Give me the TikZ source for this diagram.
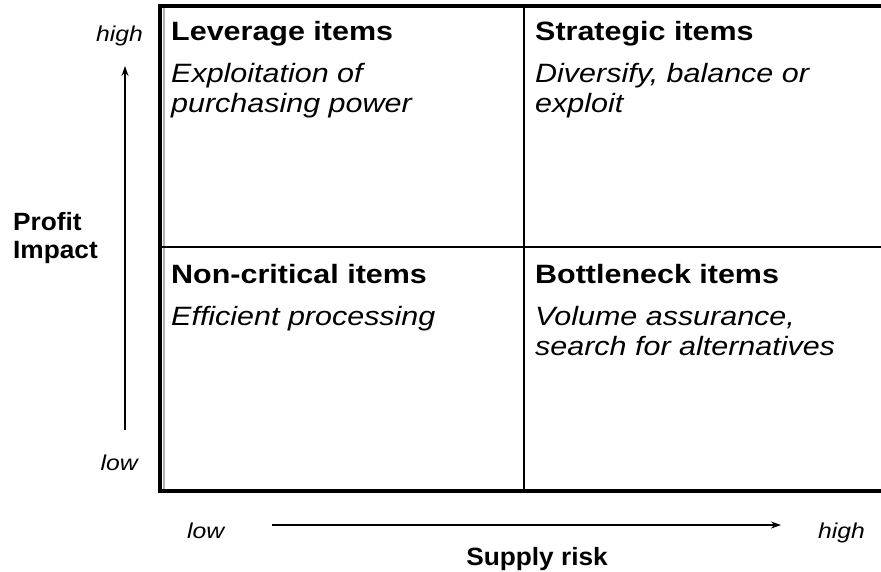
\documentclass[tikz,border=0pt]{standalone}
\usepackage{fontspec}
\setmainfont{Liberation Sans}[FakeStretch=1.15]
\newfontfamily\axisfont{Liberation Sans}[FakeStretch=1.05]
\usetikzlibrary{calc, arrows.meta}

\tikzset{
	title/.style = {anchor = base west, inner sep = 0pt, font = \bfseries\fontsize{26.5}{30}\selectfont},
	advice/.style = {anchor = base west, inner sep = 0pt, align = left, font = \itshape\fontsize{26.5}{30}\selectfont},
	level/.style = {inner sep = 0pt, font = \itshape\fontsize{21.5}{25}\selectfont},
	axis name/.style = {inner sep = 0pt, align = left, font = \axisfont\bfseries\fontsize{25}{28}\selectfont},
	axis arrow/.style = {-{Stealth[length = 10pt, width = 7pt]}, line width = 1.8pt}
}

\begin{document}
\begin{tikzpicture}[x = 1pt, y = -1pt]
		\def\l{160};
		\def\m{524};
		\def\r{881};
		\def\t{6};
		\def\h{247};
		\def\b{491};
		
		\useasboundingbox (0,0) rectangle (881,571);
		
		%matrix
		\draw [gray!60, line width = 2pt] (\l+3.5,\t) -- (\l+3.5,\b);
		\draw [line width = 4.5pt] (\r,\t) -- (\l,\t) -- (\l,\b) -- (\r,\b);
		\draw [line width = 2.5pt] (\m,\t) -- (\m,\b);
		\draw [line width = 2.5pt] (\l,\h) -- (\r,\h);
		
		%quadrants (advice nodes sit on the baseline of their last line)
		\node [title] (leverage) at (\l+11,40) {Leverage items};
		\node [advice] (leverage advice) at (\l+11,112) {Exploitation of\\purchasing power};
		
		\node [title] (strategic) at (\m+11,40) {Strategic items};
		\node [advice] (strategic advice) at (\m+11,112) {Diversify, balance or\\exploit};
		
		\node [title] (noncritical) at (\l+11,283) {Non-critical items};
		\node [advice] (noncritical advice) at (\l+11,325) {Efficient processing};
		
		\node [title] (bottleneck) at (\m+11,283) {Bottleneck items};
		\node [advice] (bottleneck advice) at (\m+11,355) {Volume assurance,\\search for alternatives};
		
		%axes
		\node [level, anchor = base east] (impact high) at (143,41) {high};
		\node [level, anchor = base east] (impact low) at (138,470) {low};
		\node [axis name, anchor = base west] (impact) at (13,258) {Profit\\Impact};
		
		\node [level, anchor = base west] (risk low) at (187,538) {low};
		\node [level, anchor = base west] (risk high) at (818,538) {high};
		\node [axis name, anchor = base] (risk) at (537,565) {Supply risk};
		
		\coordinate (impact start) at (125,430);
		\coordinate (impact end) at (125,66);
		\coordinate (risk start) at (272,525);
		\coordinate (risk end) at (781,525);
		
		\draw [axis arrow] (impact start) -- (impact end);
		\draw [axis arrow] (risk start) -- (risk end);
	\end{tikzpicture}
\end{document}
